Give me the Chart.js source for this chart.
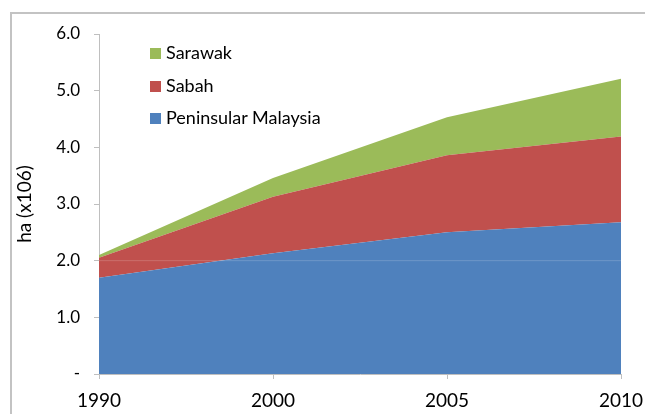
<!DOCTYPE html>
<html>
<head>
<meta charset="utf-8">
<script src="https://cdn.jsdelivr.net/npm/chart.js@4/dist/chart.umd.min.js"></script>
<style>
  body { margin: 0; background: #fff; overflow: hidden; }
  #wrap { position: relative; width: 645px; height: 414px; }
  #frame { position: absolute; left: 10px; top: 12px; width: 700px; height: 500px; border: 2px solid #c3c3c3; }
  #legend { position: absolute; left: 150px; top: 37px; font-family: Lato, sans-serif; font-size: 18px; color: #000; }
  #legend div { height: 32.5px; line-height: 30px; white-space: nowrap; }
  #legend span { display: inline-block; width: 11px; height: 11px; margin-right: 5px; vertical-align: 0px; }
</style>
</head>
<body>
<div id="wrap">
  <div id="frame"></div>
  <canvas id="chart" width="645" height="414"></canvas>
  <div id="legend"></div>
</div>
<script>
const years = ['1990', '2000', '2005', '2010'];
const peninsular = [1.70, 2.13, 2.50, 2.68];
const sabah = [0.35, 1.00, 1.36, 1.51];
const sarawak = [0.05, 0.33, 0.67, 1.02];
const seriesNames = ['Peninsular Malaysia', 'Sabah', 'Sarawak'];
const seriesColors = ['#4F81BD', '#C0504D', '#9BBB59'];

const FONT = 'Lato, sans-serif';

// faint line at 2.0 over the areas, like in the original
const midLine = {
    id: 'midLine',
    afterDatasetsDraw(chart) {
        const y = chart.scales.y.getPixelForValue(2);
        const ctx = chart.ctx;
        ctx.save();
        ctx.strokeStyle = 'rgba(255,255,255,0.18)';
        ctx.lineWidth = 1;
        ctx.beginPath();
        ctx.moveTo(chart.chartArea.left, y);
        ctx.lineTo(chart.chartArea.right, y);
        ctx.stroke();
        ctx.restore();
    }
};

const allData = [peninsular, sabah, sarawak];

const chart = new Chart(document.getElementById('chart'), {
    type: 'line',
    plugins: [midLine],
    data: {
        labels: years,
        datasets: allData.map((d, i) => ({
            label: seriesNames[i],
            data: d,
            backgroundColor: seriesColors[i],
            borderWidth: 0,
            pointRadius: 0,
            fill: i === 0 ? 'origin' : '-1',
            tension: 0
        }))
    },
    options: {
        responsive: false,
        animation: false,
        layout: { padding: { top: 34, right: 24, left: 0, bottom: 0 } },
        plugins: {
            legend: { display: false },
            tooltip: { enabled: false }
        },
        scales: {
            x: {
                offset: false,
                grid: { display: true, drawOnChartArea: false, drawTicks: true, tickLength: 5, color: '#bfbfbf' },
                border: { display: true, color: '#bfbfbf' },
                ticks: { font: { family: FONT, size: 19 }, color: '#000', padding: 10, maxRotation: 0 },
                afterFit(scale) {
                    scale.height = 40;
                    scale.paddingLeft = 0;
                    scale.paddingRight = 0;
                }
            },
            y: {
                stacked: true,
                min: 0,
                max: 6,
                grid: { display: true, drawOnChartArea: false, drawTicks: true, tickLength: 5, color: '#bfbfbf' },
                border: { display: true, color: '#bfbfbf' },
                ticks: {
                    stepSize: 1,
                    font: { family: FONT, size: 17 },
                    color: '#000',
                    padding: 14,
                    callback: v => v === 0 ? '-' : v.toFixed(1)
                },
                title: {
                    display: true,
                    text: 'ha (x106)',
                    font: { family: FONT, size: 19 },
                    color: '#000',
                    padding: { top: 13, bottom: 0 }
                },
                afterFit(scale) { scale.width = 99; }
            }
        }
    }
});

// legend, top series first
const legend = document.getElementById('legend');
for (let i = seriesNames.length - 1; i >= 0; i--) {
    const row = document.createElement('div');
    row.innerHTML = '<span style="background:' + seriesColors[i] + '"></span>' + seriesNames[i];
    legend.appendChild(row);
}
</script>
</body>
</html>
